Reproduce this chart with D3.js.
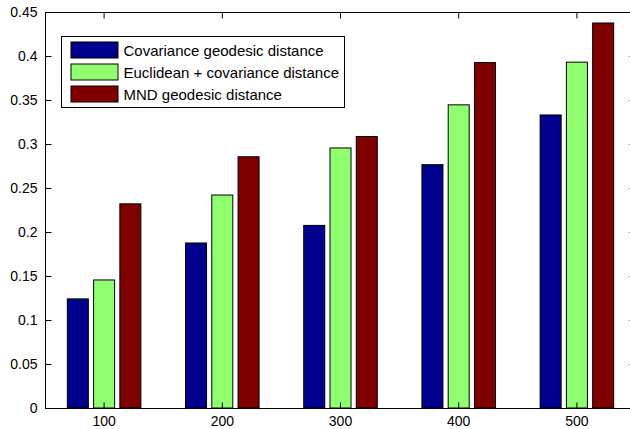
<!DOCTYPE html>
<html>
<head>
<meta charset="utf-8">
<script src="https://cdn.jsdelivr.net/npm/d3@7"></script>
<style>
  html, body { margin: 0; padding: 0; background: #fff; }
  svg text { font-family: "Liberation Sans", Arial, Helvetica, sans-serif; }
</style>
</head>
<body>
<svg id="chart" width="630" height="429"></svg>
<script>
// Sample counts along the x axis
const categories = ["100", "200", "300", "400", "500"];

// Mean error per distance measure
const seriesNames = [
  "Covariance geodesic distance",
  "Euclidean + covariance distance",
  "MND geodesic distance"
];
const covarianceGeodesic = [0.124, 0.1875, 0.2075, 0.2765, 0.333];
const euclideanCovariance = [0.1455, 0.242, 0.2955, 0.3445, 0.393];
const mndGeodesic = [0.232, 0.2855, 0.3085, 0.3925, 0.4375];
const seriesValues = [covarianceGeodesic, euclideanCovariance, mndGeodesic];
const seriesColors = ["#00008f", "#8fff6f", "#800000"];

const yTicks = [0, 0.05, 0.1, 0.15, 0.2, 0.25, 0.3, 0.35, 0.4, 0.45];
const yTickLabels = ["0", "0.05", "0.1", "0.15", "0.2", "0.25", "0.3", "0.35", "0.4", "0.45"];

const svg = d3.select("#chart");
const plot = { left: 45, right: 636, top: 12, bottom: 408 };

const x = d3.scaleBand().domain(categories).range([plot.left, plot.right]).padding(0);
const y = d3.scaleLinear().domain([0, 0.45]).range([plot.bottom, plot.top]);

// Grouped bars occupy 2/3 of each category slot
const groupFrac = 2 / 3;
const inner = d3.scaleBand()
  .domain(d3.range(seriesNames.length))
  .range([x.bandwidth() * (1 - groupFrac) / 2, x.bandwidth() * (1 + groupFrac) / 2])
  .paddingInner(0.2)
  .paddingOuter(0.1);

const bars = svg.append("g");
seriesValues.forEach((vals, si) => {
  bars.selectAll(null)
    .data(vals)
    .enter().append("rect")
    .attr("x", (d, i) => x(categories[i]) + inner(si))
    .attr("y", d => y(d))
    .attr("width", inner.bandwidth())
    .attr("height", d => y(0) - y(d))
    .attr("fill", seriesColors[si])
    .attr("stroke", "#000")
    .attr("stroke-width", 1);
});

// Axes box with inward ticks on all four sides
const tickLen = 6;
const axes = svg.append("g").attr("fill", "none").attr("stroke", "#000").attr("stroke-width", 1);

const yAxisL = d3.axisLeft(y).tickValues(yTicks).tickSizeInner(-tickLen).tickSizeOuter(0)
  .tickFormat((d, i) => yTickLabels[i]).tickPadding(8);
const gL = svg.append("g").attr("transform", `translate(${plot.left + 0.5},0)`).call(yAxisL);
gL.select(".domain").remove();
gL.selectAll("text").attr("font-size", 14).attr("fill", "#000");

const yAxisR = d3.axisRight(y).tickValues(yTicks).tickSizeInner(-tickLen).tickSizeOuter(0).tickFormat("");
const gR = svg.append("g").attr("transform", `translate(${plot.right - 0.5},0)`).call(yAxisR);
gR.select(".domain").remove();

const xAxisB = d3.axisBottom(x).tickSizeInner(-tickLen).tickSizeOuter(0).tickPadding(8);
const gB = svg.append("g").attr("transform", `translate(0,${plot.bottom + 0.5})`).call(xAxisB);
gB.select(".domain").remove();
gB.selectAll("text").attr("font-size", 14).attr("fill", "#000");

const xAxisT = d3.axisTop(x).tickSizeInner(-tickLen).tickSizeOuter(0).tickFormat("");
const gT = svg.append("g").attr("transform", `translate(0,${plot.top + 0.5})`).call(xAxisT);
gT.select(".domain").remove();

[gL, gR, gB, gT].forEach(g => g.selectAll(".tick line").attr("stroke", "#000"));

axes.append("rect")
  .attr("x", plot.left + 0.5)
  .attr("y", plot.top + 0.5)
  .attr("width", plot.right - plot.left - 1)
  .attr("height", plot.bottom - plot.top);

// Legend
const legend = svg.append("g").attr("transform", "translate(61.5,36.5)");
legend.append("rect")
  .attr("width", 283).attr("height", 71)
  .attr("fill", "#fff").attr("stroke", "#000").attr("stroke-width", 1);
const rows = legend.selectAll("g.row")
  .data(seriesNames)
  .enter().append("g")
  .attr("transform", (d, i) => `translate(9,${13.5 + i * 22})`);
rows.append("rect")
  .attr("x", 0.5).attr("y", -8)
  .attr("width", 47).attr("height", 16)
  .attr("fill", (d, i) => seriesColors[i])
  .attr("stroke", "#000").attr("stroke-width", 1);
rows.append("text")
  .attr("x", 53).attr("y", 5.5)
  .attr("font-size", 15)
  .attr("fill", "#000")
  .text(d => d);
</script>
</body>
</html>
